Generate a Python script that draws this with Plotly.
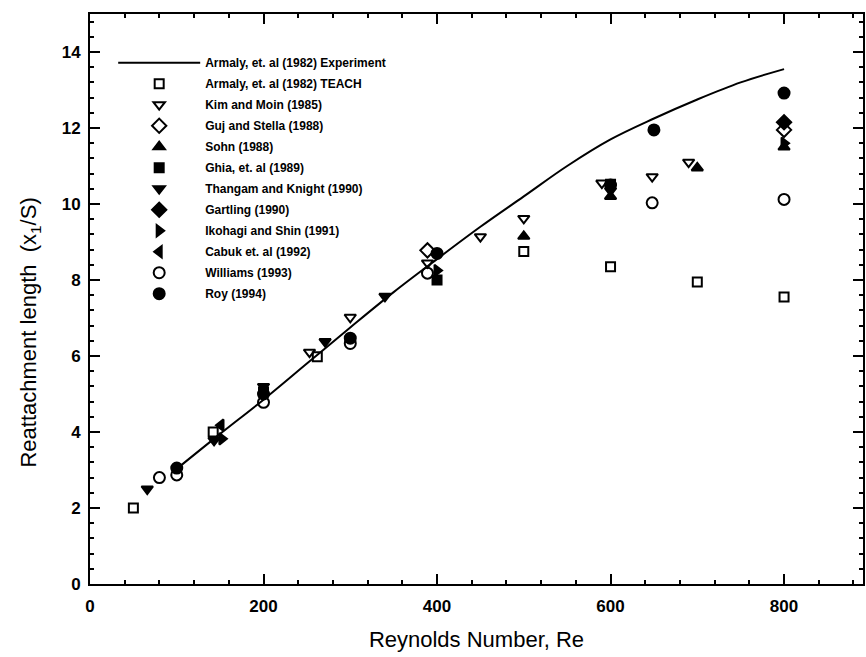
import plotly.graph_objects as go

# Armaly et al. (1982) experiment curve
exp_re = [100, 150, 200, 250, 300, 350, 400, 450, 500, 550, 600, 650, 700, 750, 800]
exp_x1 = [3.03, 3.95, 4.85, 5.8, 6.75, 7.68, 8.55, 9.4, 10.2, 11.0, 11.7, 12.25, 12.75, 13.2, 13.55]

teach_re = [50, 142, 262, 500, 600, 700, 800]
teach_x1 = [2.0, 4.0, 5.98, 8.75, 8.35, 7.95, 7.55]

kim_re = [253, 300, 389, 450, 500, 590, 648, 690]
kim_x1 = [6.1, 7.02, 8.45, 9.14, 9.62, 10.55, 10.72, 11.1]

guj_re = [389, 800]
guj_x1 = [8.78, 11.95]

sohn_re = [500, 600, 700, 800]
sohn_x1 = [9.15, 10.2, 10.95, 11.5]

ghia_re = [200, 400, 600]
ghia_x1 = [5.05, 8.0, 10.52]

thangam_re = [66, 143, 200, 271, 340, 600]
thangam_x1 = [2.5, 3.78, 5.2, 6.38, 7.57, 10.35]

gartling_re = [800]
gartling_x1 = [12.15]

ikohagi_re = [152, 400, 800]
ikohagi_x1 = [3.82, 8.25, 11.6]

cabuk_re = [151]
cabuk_x1 = [4.18]

williams_re = [80, 100, 200, 300, 389, 648, 800]
williams_x1 = [2.8, 2.87, 4.78, 6.33, 8.18, 10.03, 10.12]

roy_re = [100, 200, 300, 400, 600, 650, 800]
roy_x1 = [3.05, 5.0, 6.47, 8.7, 10.5, 11.95, 12.92]

fig = go.Figure()

fig.add_trace(go.Scatter(
    x=exp_re, y=exp_x1, mode="lines", line=dict(color="black", width=2, shape="spline"),
    name="Armaly, et. al (1982) Experiment", legendgroup="g0"))

series = [
    ("Armaly, et. al (1982) TEACH", teach_re, teach_x1, "square-open", 9),
    ("Kim and Moin (1985)", kim_re, kim_x1, "triangle-down-open", 10),
    ("Guj and Stella (1988)", guj_re, guj_x1, "diamond-open", 11),
    ("Sohn (1988)", sohn_re, sohn_x1, "triangle-up", 10),
    ("Ghia, et. al (1989)", ghia_re, ghia_x1, "square", 9),
    ("Thangam and Knight (1990)", thangam_re, thangam_x1, "triangle-down", 10),
    ("Gartling (1990)", gartling_re, gartling_x1, "diamond", 11),
    ("Ikohagi and Shin (1991)", ikohagi_re, ikohagi_x1, "triangle-right", 10),
    ("Cabuk et. al (1992)", cabuk_re, cabuk_x1, "triangle-left", 10),
    ("Williams (1993)", williams_re, williams_x1, "circle-open", 11),
    ("Roy (1994)", roy_re, roy_x1, "circle", 11),
]
for i, (name, xs, ys, sym, sz) in enumerate(series):
    fig.add_trace(go.Scatter(
        x=xs, y=ys, mode="markers", name=name, legendgroup="g%d" % (i + 1),
        marker=dict(symbol=sym, size=sz, color="black",
                    line=dict(color="black", width=2))))

axis_common = dict(
    showgrid=False, zeroline=False, showline=True, linecolor="black", linewidth=2,
    ticks="inside", tickcolor="black", tickwidth=1.5, ticklen=10, mirror="ticks",
    tickfont=dict(family="Liberation Sans", size=17, color="black", weight="bold"),
)

fig.update_xaxes(
    range=[0, 891], tickvals=[0, 200, 400, 600, 800], ticktext=["0", "200", "400", "600", "800"],
    minor=dict(dtick=40, tick0=0, ticks="inside", ticklen=4, tickcolor="black", tickwidth=1.5),
    title=dict(text="Reynolds Number, Re", font=dict(family="Liberation Sans", size=22, color="black"), standoff=16),
    ticklabelstandoff=6,
    **axis_common)
fig.update_yaxes(
    range=[0, 15], tickvals=[0, 2, 4, 6, 8, 10, 12, 14], ticktext=["0", "2", "4", "6", "8", "10", "12", "14"],
    minor=dict(dtick=0.4, tick0=0, ticks="inside", ticklen=4, tickcolor="black", tickwidth=1.5),
    ticklabelstandoff=4,
    **axis_common)

fig.add_annotation(
    text="Reattachment length  (x<sub>1</sub>/S)", textangle=-90,
    xref="paper", yref="paper", x=-0.077, y=0.442, xanchor="center", yanchor="middle",
    showarrow=False, font=dict(family="Liberation Sans", size=22, color="black"))

fig.update_layout(
    width=866, height=657,
    margin=dict(l=90, r=1, t=14, b=73),
    paper_bgcolor="white", plot_bgcolor="white",
    showlegend=True,
    legend=dict(x=0.03, y=0.94, xanchor="left", yanchor="top",
                bgcolor="rgba(0,0,0,0)", itemwidth=82, tracegroupgap=2,
                font=dict(family="Liberation Sans", size=12, color="black", weight="bold")),
)

fig.write_html("out.html")
